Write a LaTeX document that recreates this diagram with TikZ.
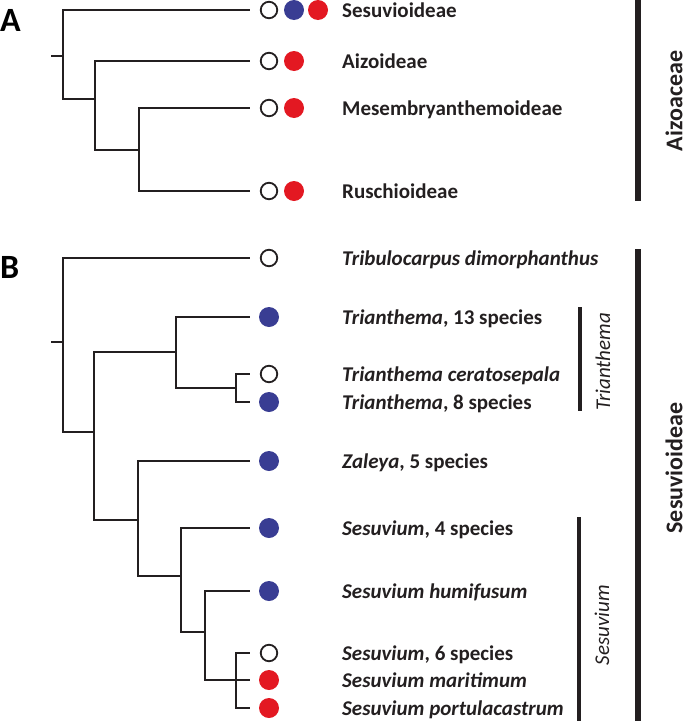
\documentclass[tikz,border=0pt]{standalone}
\usepackage{fontspec}
\setmainfont{Carlito}
\definecolor{PhyInk}{RGB}{35,31,32}
\definecolor{PhyBlue}{RGB}{57,61,147}
\definecolor{PhyRed}{RGB}{227,24,34}
\tikzset{
  phy/branch/.style={draw=PhyInk, line width=1.7pt},
  phy/bar/.style={draw=PhyInk, line width=6.5pt},
  phy/thinbar/.style={draw=PhyInk, line width=4pt},
  phy/open/.style={circle, draw=PhyInk, line width=1.8pt, fill=white, minimum size=16.5pt, inner sep=0pt},
  phy/blue/.style={circle, fill=PhyBlue, minimum size=20pt, inner sep=0pt},
  phy/red/.style={circle, fill=PhyRed, minimum size=20pt, inner sep=0pt},
  phy/label/.style={anchor=base west, inner sep=0pt, text=PhyInk, font=\fontsize{21}{25}\selectfont\bfseries},
  phy/group/.style={rotate=90, inner sep=0pt, text=PhyInk, font=\fontsize{24}{29}\selectfont\bfseries},
  phy/genus/.style={rotate=90, inner sep=0pt, text=PhyInk, font=\fontsize{21}{25}\selectfont\itshape},
  phy/panel/.style={anchor=base west, inner sep=0pt, text=black, font=\fontsize{34}{40}\selectfont\bfseries}
}

\begin{document}
\begin{tikzpicture}[x=1pt,y=-1pt]
  \useasboundingbox (0,0) rectangle (683,723);

  % panel A: subfamilies
  \node[phy/panel] (pA) at (0,31) {A};
  \coordinate (a0) at (51,56);
  \coordinate (a1) at (63,56);
  \coordinate (a2) at (95,99);
  \coordinate (a3) at (139,150);
  \foreach \n/\y in {ta1/10, ta2/61, ta3/108, ta4/191}{
    \coordinate (\n) at (250,\y);
  }
  \draw[phy/branch] (a0) -- (a1);
  \draw[phy/branch] (a1) |- (ta1);
  \draw[phy/branch] (a1) |- (a2);
  \draw[phy/branch] (a2) |- (ta2);
  \draw[phy/branch] (a2) |- (a3);
  \draw[phy/branch] (a3) |- (ta3);
  \draw[phy/branch] (a3) |- (ta4);

  \foreach \n/\y in {1/10, 2/61, 3/108, 4/191}{
    \node[phy/open] (oa\n) at (269,\y) {};
  }
  \node[phy/blue] (ba1) at (294,10) {};
  \node[phy/red] (ra1) at (318,10) {};
  \foreach \n/\y in {2/61, 3/108, 4/191}{
    \node[phy/red] (ra\n) at (294,\y) {};
  }
  \foreach \n/\y/\txt in {1/10/Sesuvioideae, 2/61/Aizoideae, 3/108/Mesembryanthemoideae, 4/191/Ruschioideae}{
    \node[phy/label] (la\n) at (342,{\y+7.5}) {\txt};
  }

  \coordinate (aiz1) at (638,0);
  \coordinate (aiz2) at (638,201);
  \draw[phy/bar] (aiz1) -- (aiz2);
  \node[phy/group] (aiz) at (674,101) {Aizoaceae};

  % panel B: Sesuvioideae
  \node[phy/panel] (pB) at (0,278) {B};
  \coordinate (b0) at (51,342);
  \coordinate (b1) at (63,342);
  \coordinate (b2) at (94,432);
  \coordinate (b3) at (176,352);
  \coordinate (b4) at (236,388);
  \coordinate (b5) at (138,520);
  \coordinate (b6) at (181,576);
  \coordinate (b7) at (205,632);
  \coordinate (b8) at (236,680);
  \foreach \n/\y in {1/258, 2/317, 3/374, 4/402, 5/461, 6/528, 7/591, 8/653, 9/680, 10/708}{
    \coordinate (tb\n) at (250,\y);
  }
  \draw[phy/branch] (b0) -- (b1);
  \draw[phy/branch] (b1) |- (tb1);
  \draw[phy/branch] (b1) |- (b2);
  \draw[phy/branch] (b2) |- (b3);
  \draw[phy/branch] (b2) |- (b5);
  \draw[phy/branch] (b3) |- (tb2);
  \draw[phy/branch] (b3) |- (b4);
  \draw[phy/branch] (b4) |- (tb3);
  \draw[phy/branch] (b4) |- (tb4);
  \draw[phy/branch] (b5) |- (tb5);
  \draw[phy/branch] (b5) |- (b6);
  \draw[phy/branch] (b6) |- (tb6);
  \draw[phy/branch] (b6) |- (b7);
  \draw[phy/branch] (b7) |- (tb7);
  \draw[phy/branch] (b7) |- (tb9);
  \draw[phy/branch] (b8) |- (tb8);
  \draw[phy/branch] (b8) |- (tb10);

  \foreach \n/\y/\mk in {1/258/open, 2/317/blue, 3/374/open, 4/402/blue, 5/461/blue,
                         6/528/blue, 7/591/blue, 8/653/open, 9/680/red, 10/708/red}{
    \node[phy/\mk] (mb\n) at (269,\y) {};
  }
  \foreach \n/\y/\txt in {1/258/{\textit{Tribulocarpus dimorphanthus}},
                          2/317/{\textit{Trianthema}, 13 species},
                          3/374/{\textit{Trianthema ceratosepala}},
                          4/402/{\textit{Trianthema}, 8 species},
                          5/461/{\textit{Zaleya}, 5 species},
                          6/528/{\textit{Sesuvium}, 4 species},
                          7/591/{\textit{Sesuvium humifusum}},
                          8/653/{\textit{Sesuvium}, 6 species},
                          9/680/{\textit{Sesuvium maritimum}},
                          10/708/{\textit{Sesuvium portulacastrum}}}{
    \node[phy/label] (lb\n) at (342,{\y+7.5}) {\txt};
  }

  \coordinate (tri1) at (580,307);
  \coordinate (tri2) at (580,411);
  \draw[phy/thinbar] (tri1) -- (tri2);
  \node[phy/genus] (tri) at (603,362) {Trianthema};
  \coordinate (ses1) at (579,517);
  \coordinate (ses2) at (579,721);
  \draw[phy/thinbar] (ses1) -- (ses2);
  \node[phy/genus] (ses) at (602,625) {Sesuvium};
  \coordinate (sub1) at (638,249);
  \coordinate (sub2) at (638,721);
  \draw[phy/bar] (sub1) -- (sub2);
  \node[phy/group] (sub) at (674,468) {Sesuvioideae};
\end{tikzpicture}
\end{document}
